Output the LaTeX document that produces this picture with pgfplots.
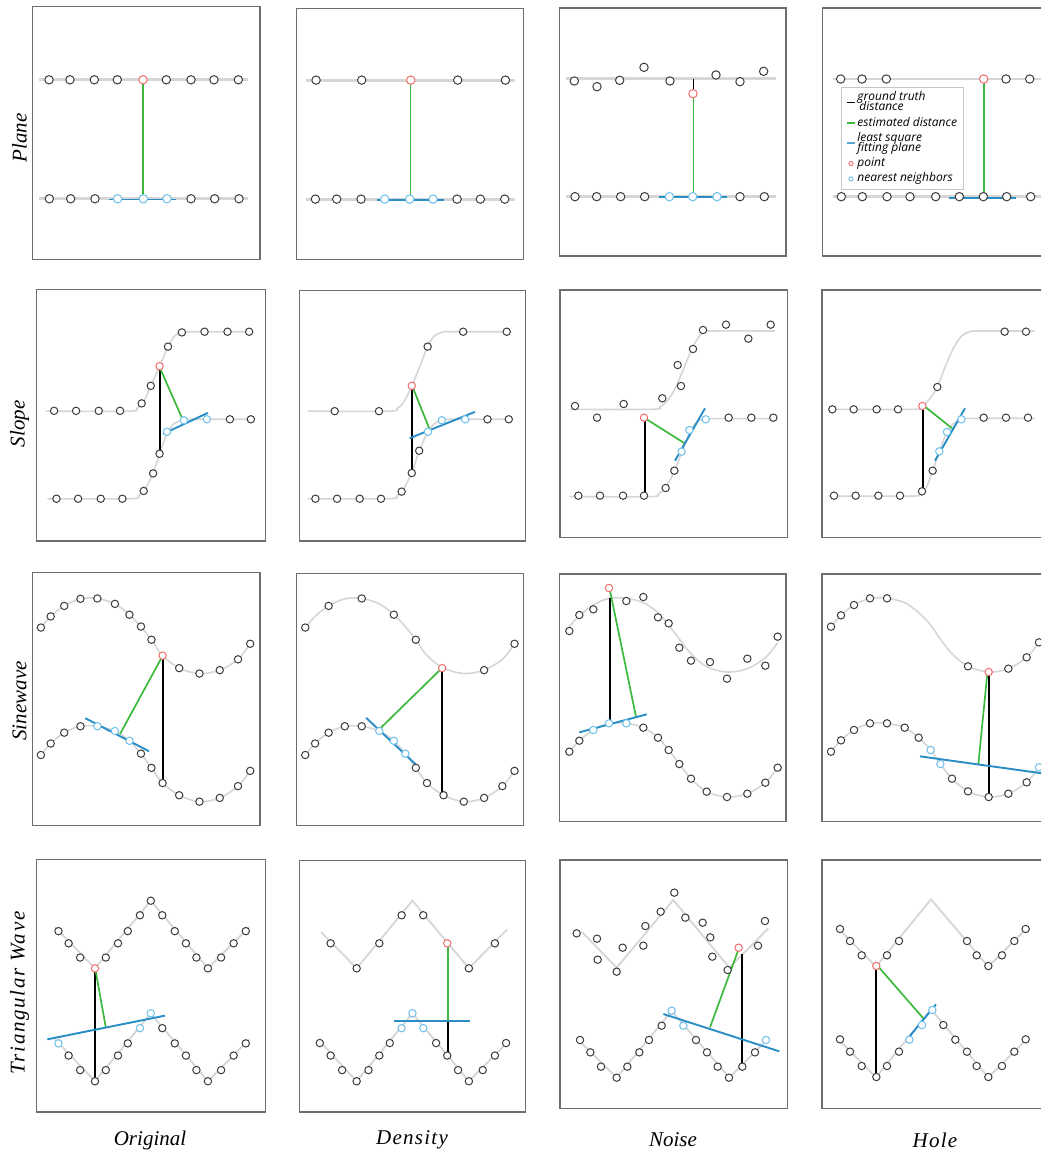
\documentclass[border=0pt]{standalone}
\usepackage{fontspec}
\setmainfont{Liberation Serif}
\newfontfamily\legfont{Open Sans}
\usepackage{pgfplots}
\pgfplotsset{compat=1.18}
\definecolor{curvegray}{HTML}{D6D6D6}
\definecolor{ptgray}{HTML}{3C3C3C}
\definecolor{ptred}{HTML}{F26B6B}
\definecolor{ptblue}{HTML}{6CC0EA}
\definecolor{fitblue}{HTML}{2A8EC6}
\definecolor{estgreen}{HTML}{3DBA3D}
\definecolor{framegray}{HTML}{6E6E6E}
\pgfplotsset{
  panel/.style n args={7}{
    xmin=#1, xmax=#2, ymin=#3, ymax=#4,
    scale only axis,
    width={(#2-#1)/#7*0.5pt}, height={(#4-#3)/#7*0.5pt},
    at={({(#1/#7+#5)*0.5pt},{-(#4/#7+#6)*0.5pt})}, anchor=south west,
    y dir=reverse, ticks=none,
    axis line style={draw=framegray, line width=0.55pt},
  },
  crv/.style={draw=curvegray, line width=0.9pt, no markers},
  crvP/.style={draw=curvegray, line width=1.4pt, no markers},
  scrv/.style={draw=curvegray, line width=0.8pt, no markers, smooth, tension=0.55},
  pt/.style={only marks, mark=*, mark size=1.85pt, mark options={draw=ptgray, fill=white, line width=0.5pt}},
  rpt/.style={only marks, mark=*, mark size=1.85pt, mark options={draw=ptred, fill=white, line width=0.5pt}},
  bpt/.style={only marks, mark=*, mark size=1.85pt, mark options={draw=ptblue, fill=white, line width=0.5pt}},
  ptP/.style={pt, mark size=2.1pt},
  rptP/.style={rpt, mark size=2.1pt},
  bptP/.style={bpt, mark size=2.1pt},
  gt/.style={black, line width=1pt, no markers},
  est/.style={estgreen, line width=0.85pt, no markers},
  estP/.style={estgreen, line width=0.8pt, no markers},
  fit/.style={fitblue, line width=0.95pt, no markers},
}
\newcommand{\lab}{\fontsize{10.5}{12}\selectfont\itshape}
\newcommand{\twol}[2]{\vbox{\baselineskip=4.8pt\lineskiplimit=-5pt\lineskip=0pt\hbox{#1}\hbox{#2}}}
\begin{document}
\begin{tikzpicture}
\path[use as bounding box, clip] (0,0) rectangle (520.5pt,-575.5pt);
\fill[white] (0,0) rectangle (520.5pt,-575.5pt);
% ---------------- Row 1: Plane ----------------
\begin{axis}[panel={97}{769}{20}{768}{0}{0}{2.958}]
\addplot[crvP] coordinates {(115,235) (735,235)};
\addplot[crvP] coordinates {(115,588) (735,588)};
\addplot[fit] coordinates {(322,590) (522,590)};
\addplot[estP] coordinates {(423,248) (423,578)};
\addplot[ptP] coordinates {(145,236)(207,236)(279,236)(347,236)(492,236)(565,236)(633,236)(705,236)};
\addplot[rptP] coordinates {(423,236)};
\addplot[ptP] coordinates {(146,588)(209,588)(281,588)(565,588)(635,588)(707,588)};
\addplot[bptP] coordinates {(348,588)(424,588)(494,588)};
\end{axis}
\begin{axis}[panel={878}{1548}{24}{768}{0}{0}{2.958}]
\addplot[crvP] coordinates {(905,237) (1522,237)};
\addplot[crvP] coordinates {(905,589) (1522,589)};
\addplot[fit] coordinates {(1115,591) (1313,591)};
\addplot[estP] coordinates {(1214,249) (1214,578)};
\addplot[ptP] coordinates {(935,237)(1070,237)(1354,237)(1495,237)};
\addplot[rptP] coordinates {(1215,237)};
\addplot[ptP] coordinates {(933,589)(996,589)(1068,589)(1352,589)(1421,589)(1493,589)};
\addplot[bptP] coordinates {(1138,589)(1212,589)(1281,589)};
\end{axis}
\begin{axis}[panel={88}{768}{24}{768}{530}{0}{3}]
\addplot[crvP] coordinates {(108,236) (737,236)};
\addplot[crvP] coordinates {(108,590) (737,590)};
\addplot[fit] coordinates {(387,592) (590,592)};
\addplot[gt, line width=0.6pt] coordinates {(491,236) (491,269)};
\addplot[estP] coordinates {(491,293) (491,580)};
\addplot[ptP] coordinates {(133,243)(201,260)(269,241)(342,202)(420,243)(558,225)(630,245)(701,214)};
\addplot[rptP] coordinates {(489,281)};
\addplot[ptP] coordinates {(135,590)(200,590)(272,590)(344,590)(630,590)(703,590)};
\addplot[bptP] coordinates {(418,590)(488,590)(561,590)};
\end{axis}
\begin{axis}[panel={877}{1558}{24}{768}{530}{0}{3},
  legend style={at={(axis description cs:0.082,0.68)}, anchor=north west,
    draw=gray!45, line width=0.4pt, inner xsep=2.5pt, inner ysep=1.2pt, row sep=0pt,
    nodes={inner sep=0.85pt},
    font=\legfont\itshape\fontsize{6}{5}\selectfont},
  legend cell align=left,
  legend entries={{\twol{ground truth}{\,distance}},estimated distance,{\twol{least square}{fitting plane}},point,nearest neighbors}]
\addlegendimage{legend image code/.code={\draw[black,line width=0.75pt] (0pt,0pt)--(3.8pt,0pt);}}
\addlegendimage{legend image code/.code={\draw[estgreen,line width=0.75pt] (0pt,0pt)--(3.8pt,0pt);}}
\addlegendimage{legend image code/.code={\draw[fitblue!80,line width=0.9pt] (0pt,0pt)--(3.8pt,0pt);}}
\addlegendimage{legend image code/.code={\draw[ptred,line width=0.45pt] (1.9pt,0pt) circle (1.05pt);}}
\addlegendimage{legend image code/.code={\draw[ptblue,line width=0.45pt] (1.9pt,0pt) circle (1.05pt);}}
\addplot[crvP] coordinates {(908,237) (1570,237)};
\addplot[crvP] coordinates {(908,590) (1570,590)};
\addplot[fit] coordinates {(1258,593) (1458,593)};
\addplot[estP] coordinates {(1362,250) (1362,580)};
\addplot[ptP] coordinates {(932,237)(996,237)(1069,237)(1428,237)(1499,237)(1570,237)};
\addplot[rptP] coordinates {(1361,237)};
\addplot[ptP] coordinates {(934,590)(997,590)(1071,590)(1140,590)(1217,590)(1288,590)(1360,590)(1430,590)(1502,590)};
\end{axis}
% ---------------- Row 2: Slope ----------------
\begin{axis}[panel={108}{784}{27}{772}{0}{280}{2.958}]
\addplot[scrv] coordinates {(135,388)(380,388)(405,380)(425,360)(446,313)(472,255)(497,197)(517,165)(540,154)(565,153)(745,153)};
\addplot[scrv] coordinates {(140,647)(385,647)(410,638)(428,620)(453,572)(472,514)(494,455)(515,425)(540,414)(565,412)(750,412)};
\addplot[gt] coordinates {(472,262)(472,508)};
\addplot[est] coordinates {(474,262)(540,412)};
\addplot[fit] coordinates {(483,455)(615,393)};
\addplot[pt] coordinates {(160,387)(225,387)(292,387)(355,387)(419,365)(446,313)(497,197)(538,155)(605,153)(673,153)(737,153)};
\addplot[rpt] coordinates {(472,255)};
\addplot[pt] coordinates {(167,647)(231,647)(298,647)(362,647)(425,624)(453,572)(472,514)(680,412)(742,412)};
\addplot[bpt] coordinates {(494,449)(544,415)(612,412)};
\end{axis}
\begin{axis}[panel={885}{1555}{30}{772}{0}{280}{2.958}]
\addplot[scrv] coordinates {(910,388)(1150,388)(1175,380)(1195,360)(1218,313)(1242,255)(1265,197)(1285,165)(1310,154)(1335,153)(1510,153)};
\addplot[scrv] coordinates {(910,647)(1150,647)(1172,640)(1190,624)(1218,571)(1240,505)(1266,449)(1285,425)(1307,415)(1330,412)(1515,412)};
\addplot[gt] coordinates {(1220,320)(1220,565)};
\addplot[est] coordinates {(1222,320)(1270,440)};
\addplot[fit] coordinates {(1212,468)(1405,390)};
\addplot[pt] coordinates {(990,388)(1121,388)(1265,197)(1370,153)(1499,153)};
\addplot[rpt] coordinates {(1218,313)};
\addplot[pt] coordinates {(933,647)(997,647)(1064,647)(1127,647)(1188,626)(1218,571)(1240,505)(1442,412)(1505,412)};
\addplot[bpt] coordinates {(1266,449)(1307,415)(1376,412)};
\end{axis}
\begin{axis}[panel={90}{772}{30}{772}{530}{280}{3}]
\addplot[scrv] coordinates {(120,388)(365,388)(390,380)(410,365)(433,330)(455,280)(480,220)(500,180)(520,156)(545,153)(735,153)};
\addplot[scrv] coordinates {(118,650)(360,650)(385,642)(405,625)(430,580)(455,518)(478,460)(498,428)(520,418)(545,416)(740,416)};
\addplot[gt] coordinates {(344,420)(344,640)};
\addplot[est] coordinates {(350,418)(464,490)};
\addplot[fit] coordinates {(435,542)(525,385)};
\addplot[pt] coordinates {(135,378)(201,413)(281,372)(397,355)(453,318)(443,255)(489,207)(519,150)(588,134)(655,176)(722,134)};
\addplot[rpt] coordinates {(342,413)};
\addplot[pt] coordinates {(145,647)(210,647)(279,647)(342,647)(407,624)(433,572)(596,413)(664,413)(730,413)};
\addplot[bpt] coordinates {(455,515)(478,450)(527,418)};
\end{axis}
\begin{axis}[panel={876}{1558}{30}{772}{530}{280}{3}]
\addplot[scrv] coordinates {(895,388)(1150,388)(1175,380)(1200,355)(1222,321)(1245,262)(1270,205)(1295,168)(1320,155)(1345,153)(1515,153)};
\addplot[scrv] coordinates {(895,648)(1150,648)(1170,640)(1190,620)(1208,572)(1228,514)(1251,456)(1272,430)(1294,418)(1320,415)(1515,415)};
\addplot[gt] coordinates {(1179,385)(1179,630)};
\addplot[est] coordinates {(1185,380)(1270,448)};
\addplot[fit] coordinates {(1215,542)(1305,385)};
\addplot[pt] coordinates {(907,388)(971,388)(1040,388)(1104,388)(1222,321)(1424,155)(1488,155)};
\addplot[rpt] coordinates {(1177,378)};
\addplot[pt] coordinates {(912,647)(977,647)(1045,647)(1110,647)(1176,634)(1208,572)(1361,413)(1428,413)(1494,413)};
\addplot[bpt] coordinates {(1228,514)(1251,456)(1294,418)};
\end{axis}
% ---------------- Row 3: Sinewave ----------------
\begin{axis}[panel={95}{769}{22}{770}{0}{565}{2.958}]
\addplot[scrv] coordinates {(121,185)(150,152)(190,121)(238,100)(288,99)(340,115)(383,147)(417,182)(448,221)(481,268)(530,305)(590,321)(650,311)(704,279)(740,233)};
\addplot[scrv] coordinates {(121,562)(150,528)(190,496)(238,477)(288,477)(340,491)(383,520)(417,558)(448,600)(481,645)(530,681)(590,700)(650,689)(704,654)(740,609)};
\addplot[gt] coordinates {(481,278)(481,638)};
\addplot[est] coordinates {(477,276)(355,500)};
\addplot[fit] coordinates {(252,453)(441,551)};
\addplot[pt] coordinates {(121,185)(150,152)(190,121)(238,100)(288,99)(340,115)(383,147)(417,182)(448,221)(530,305)(590,321)(650,311)(704,279)(740,233)};
\addplot[rpt] coordinates {(481,268)};
\addplot[pt] coordinates {(121,562)(150,528)(190,496)(238,477)(417,558)(448,600)(481,645)(530,681)(590,700)(650,689)(704,654)(740,609)};
\addplot[bpt] coordinates {(288,477)(340,491)(383,520)};
\end{axis}
\begin{axis}[panel={878}{1548}{25}{770}{0}{565}{2.958}]
\addplot[scrv] coordinates {(903,185)(932,152)(972,121)(1020,100)(1070,99)(1122,115)(1165,147)(1199,182)(1230,221)(1263,268)(1312,305)(1372,321)(1432,311)(1486,279)(1522,233)};
\addplot[scrv] coordinates {(903,562)(932,528)(972,496)(1020,477)(1070,477)(1122,491)(1165,520)(1199,558)(1230,600)(1263,645)(1312,681)(1372,700)(1432,689)(1486,654)(1522,609)};
\addplot[gt] coordinates {(1308,315)(1308,675)};
\addplot[est] coordinates {(1300,312)(1125,483)};
\addplot[fit] coordinates {(1083,452)(1230,590)};
\addplot[pt] coordinates {(903,185)(972,121)(1070,99)(1165,147)(1230,221)(1432,311)(1522,233)};
\addplot[rpt] coordinates {(1308,305)};
\addplot[pt] coordinates {(903,562)(932,528)(972,496)(1020,477)(1070,477)(1230,600)(1263,645)(1312,681)(1372,700)(1432,689)(1486,654)(1522,609)};
\addplot[bpt] coordinates {(1122,491)(1165,520)(1199,558)};
\end{axis}
\begin{axis}[panel={88}{768}{27}{770}{530}{565}{3}]
\addplot[scrv] coordinates {(118,185)(148,152)(190,120)(237,100)(289,100)(340,113)(384,143)(416,180)(448,222)(483,266)(530,305)(591,321)(652,311)(706,278)(743,233)};
\addplot[scrv] coordinates {(118,560)(148,527)(190,495)(237,475)(289,475)(340,488)(384,518)(416,555)(448,597)(483,641)(530,680)(591,696)(652,686)(706,653)(743,608)};
\addplot[gt] coordinates {(239,100)(239,465)};
\addplot[est] coordinates {(240,77)(318,455)};
\addplot[fit] coordinates {(148,502)(350,448)};
\addplot[pt] coordinates {(118,198)(148,150)(190,133)(289,108)(340,96)(384,157)(416,175)(448,248)(483,287)(540,291)(591,341)(652,281)(706,302)(743,215)};
\addplot[rpt] coordinates {(237,69)};
\addplot[pt] coordinates {(118,560)(148,527)(340,488)(384,518)(416,555)(448,597)(483,641)(530,680)(591,696)(652,686)(706,653)(743,608)};
\addplot[bpt] coordinates {(190,495)(237,475)(289,475)};
\end{axis}
\begin{axis}[panel={876}{1558}{27}{770}{530}{565}{3}]
\addplot[scrv] coordinates {(903,185)(933,151)(972,120)(1020,100)(1071,100)(1124,113)(1166,143)(1202,180)(1231,222)(1266,266)(1314,304)(1376,321)(1435,311)(1490,277)(1527,232)(1560,185)};
\addplot[scrv] coordinates {(903,560)(933,526)(972,495)(1020,475)(1071,475)(1124,488)(1166,518)(1202,555)(1231,597)(1266,641)(1314,679)(1376,696)(1435,686)(1490,652)(1527,607)(1560,560)};
\addplot[gt] coordinates {(1377,330)(1377,690)};
\addplot[est] coordinates {(1372,325)(1345,598)};
\addplot[fit] coordinates {(1170,574)(1580,631)};
\addplot[pt] coordinates {(903,185)(933,151)(972,120)(1020,100)(1071,100)(1314,304)(1435,311)(1490,277)(1527,232)};
\addplot[rpt] coordinates {(1376,321)};
\addplot[pt] coordinates {(903,560)(933,526)(972,495)(1020,475)(1071,475)(1124,488)(1166,518)(1266,641)(1314,679)(1376,696)(1435,686)(1490,652)};
\addplot[bpt] coordinates {(1202,555)(1231,597)(1527,607)};
\end{axis}
% ---------------- Row 4: Triangular Wave ----------------
\begin{axis}[panel={108}{784}{27}{775}{0}{850}{2.958}]
\addplot[crv] coordinates {(163,228)(281,350)(446,150)(615,350)(737,228)};
\addplot[crv] coordinates {(163,560)(281,684)(446,483)(615,684)(737,560)};
\addplot[gt] coordinates {(281,358)(281,678)};
\addplot[est] coordinates {(283,358)(313,525)};
\addplot[fit] coordinates {(140,560)(488,490)};
\addplot[pt] coordinates {(173,240)(203,276)(237,318)(313,318)(349,276)(378,240)(414,193)(446,150)(480,193)(517,240)(550,276)(581,318)(615,350)(654,318)(691,276)(727,240)};
\addplot[rpt] coordinates {(281,350)};
\addplot[pt] coordinates {(203,608)(237,651)(281,684)(313,651)(349,608)(378,572)(480,527)(517,572)(550,608)(581,651)(615,684)(654,651)(691,608)(727,572)};
\addplot[bpt] coordinates {(173,572)(414,527)(446,483)};
\end{axis}
\begin{axis}[panel={885}{1555}{30}{775}{0}{850}{2.958}]
\addplot[crv] coordinates {(950,243)(1055,350)(1220,150)(1387,350)(1500,235)};
\addplot[crv] coordinates {(940,560)(1055,684)(1220,483)(1387,684)(1505,565)};
\addplot[gt] coordinates {(1325,506)(1325,603)};
\addplot[est] coordinates {(1325,285)(1325,506)};
\addplot[fit] coordinates {(1166,506)(1390,506)};
\addplot[pt] coordinates {(978,276)(1055,350)(1122,276)(1188,193)(1252,193)(1387,350)(1464,276)};
\addplot[rpt] coordinates {(1323,276)};
\addplot[pt] coordinates {(946,571)(978,608)(1012,651)(1055,684)(1090,651)(1122,608)(1153,571)(1290,571)(1323,608)(1355,651)(1387,684)(1428,651)(1464,608)(1497,571)};
\addplot[bpt] coordinates {(1188,527)(1220,483)(1252,527)};
\end{axis}
\begin{axis}[panel={90}{772}{30}{775}{530}{850}{3}]
\addplot[crv] coordinates {(155,245)(260,353)(430,150)(598,353)(715,235)};
\addplot[crv] coordinates {(140,565)(260,683)(425,483)(598,683)(715,565)};
\addplot[gt] coordinates {(637,313)(637,640)};
\addplot[est] coordinates {(625,300)(540,532)};
\addplot[fit] coordinates {(400,492)(748,604)};
\addplot[pt] coordinates {(140,250)(203,329)(201,266)(278,293)(260,365)(340,287)(346,228)(392,185)(433,128)(466,203)(518,218)(541,262)(547,320)(593,360)(684,287)(705,213)};
\addplot[rpt] coordinates {(626,293)};
\addplot[pt] coordinates {(150,570)(181,607)(213,650)(260,683)(292,650)(328,607)(357,570)(395,527)(498,570)(531,607)(563,650)(597,683)(637,650)(675,607)};
\addplot[bpt] coordinates {(425,482)(460,527)(708,570)};
\end{axis}
\begin{axis}[panel={876}{1558}{30}{775}{530}{850}{3}]
\addplot[crv] coordinates {(920,230)(1038,350)(1203,148)(1375,350)(1495,230)};
\addplot[crv] coordinates {(920,563)(1038,682)(1203,478)(1375,682)(1495,563)};
\addplot[gt] coordinates {(1038,355)(1038,676)};
\addplot[est] coordinates {(1045,350)(1180,505)};
\addplot[fit] coordinates {(1138,560)(1218,463)};
\addplot[pt] coordinates {(930,237)(960,273)(995,316)(1071,316)(1107,273)(1311,273)(1340,316)(1375,348)(1416,316)(1453,273)(1487,237)};
\addplot[rpt] coordinates {(1039,348)};
\addplot[pt] coordinates {(930,568)(960,605)(995,648)(1039,681)(1071,648)(1107,605)(1240,525)(1276,569)(1311,605)(1340,648)(1375,681)(1416,648)(1453,605)(1487,568)};
\addplot[bpt] coordinates {(1138,569)(1176,525)(1207,480)};
\end{axis}
% ---------------- labels ----------------
\node[rotate=90, font=\lab] at ({19.5*0.5pt},{-138*0.5pt}) {Plane};
\node[rotate=90, font=\lab] at ({19.5*0.5pt},{-424*0.5pt}) {Slope};
\node[rotate=90, font=\lab] at ({19.5*0.5pt},{-701*0.5pt}) {Sinewave};
\node[rotate=90, font=\lab\addfontfeatures{LetterSpace=8}] at ({19.5*0.5pt},{-993*0.5pt}) {Triangular Wave};
\node[font=\lab] at ({150*0.5pt},{-1140*0.5pt}) {Original};
\node[font=\lab\addfontfeatures{LetterSpace=6}] at ({412*0.5pt},{-1140*0.5pt}) {Density};
\node[font=\lab] at ({673*0.5pt},{-1140*0.5pt}) {Noise};
\node[font=\lab\addfontfeatures{LetterSpace=6}] at ({935*0.5pt},{-1140*0.5pt}) {Hole};
\end{tikzpicture}
\end{document}
